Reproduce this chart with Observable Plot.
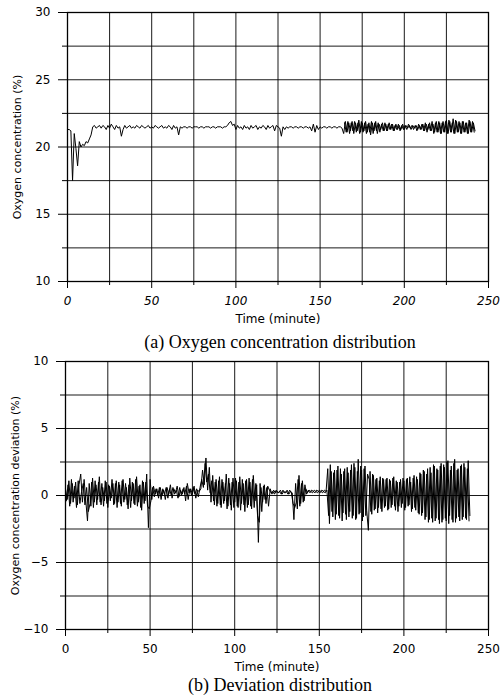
<!DOCTYPE html>
<html>
<head>
<meta charset="utf-8">
<script src="https://cdn.jsdelivr.net/npm/d3@7"></script>
<script src="https://cdn.jsdelivr.net/npm/@observablehq/plot@0.6"></script>
<style>
  html, body { margin: 0; padding: 0; background: #fff; overflow: hidden; }
  svg { display: block; }
  .cap { width: 440px; padding-left: 60px; text-align: center;
         font-family: "Liberation Serif", "DejaVu Serif", serif; font-size: 18px; color: #000; white-space: nowrap; }
  #capA { height: 24px; line-height: 24px; }
  #capB { height: 19px; line-height: 19px; }
  #a g[aria-label='x-axis tick label'] text { font-style: italic; }
</style>
</head>
<body>
<div id="a"></div>
<div class="cap" id="capA">(a) Oxygen concentration distribution</div>
<div id="b"></div>
<div class="cap" id="capB">(b) Deviation distribution</div>
<script>
// sampling step of both records (minutes)
const stepMinutes = 1;

// (a) oxygen concentration (%) read at each whole minute, 0..242
const oxygen = [
  21.3, 21.3, 21.2, 17.5, 21.0, 19.9, 18.6, 20.4, 20.0, 20.2,
  20.1, 20.4, 20.3, 20.6, 20.9, 21.5, 21.6, 21.4, 21.5, 21.6,
  21.4, 21.6, 21.5, 21.3, 21.6, 21.4, 21.7, 21.5, 21.3, 21.6,
  21.4, 21.5, 20.8, 21.3, 21.6, 21.4, 21.5, 21.6, 21.4, 21.5,
  21.4, 21.6, 21.5, 21.4, 21.6, 21.5, 21.4, 21.5, 21.6, 21.4,
  21.5, 21.4, 21.6, 21.5, 21.4, 21.5, 21.6, 21.4, 21.5, 21.4,
  21.6, 21.5, 21.3, 21.6, 21.4, 21.5, 20.9, 21.5, 21.4, 21.5,
  21.5, 21.4, 21.5, 21.5, 21.4, 21.5, 21.5, 21.5, 21.4, 21.5,
  21.5, 21.4, 21.5, 21.5, 21.5, 21.4, 21.5, 21.5, 21.4, 21.5,
  21.5, 21.5, 21.4, 21.5, 21.5, 21.6, 21.8, 21.9, 21.6, 21.7,
  21.3, 21.6, 21.4, 21.5, 21.3, 21.6, 21.4, 21.5, 21.3, 21.6,
  21.4, 21.5, 21.6, 21.3, 21.5, 21.4, 21.6, 21.5, 21.3, 21.6,
  21.4, 21.5, 21.6, 21.2, 21.6, 21.5, 21.4, 20.8, 21.5, 21.3,
  21.5, 21.4, 21.5, 21.5, 21.4, 21.5, 21.5, 21.4, 21.5, 21.5,
  21.4, 21.5, 21.5, 21.4, 21.5, 21.2, 21.7, 21.1, 21.6, 21.3,
  21.5, 21.4, 21.5, 21.5, 21.4, 21.5, 21.5, 21.4, 21.5, 21.5,
  21.4, 21.5, 21.5, 21.4, 21.0, 21.9, 21.1, 21.8, 21.2, 21.9,
  21.0, 21.8, 21.2, 22.0, 21.1, 21.8, 21.2, 21.9, 21.1, 21.8,
  20.9, 21.8, 21.2, 21.9, 21.0, 21.7, 21.3, 21.8, 21.2, 21.7,
  21.2, 21.8, 21.3, 21.7, 21.2, 21.7, 21.3, 21.6, 21.3, 21.7,
  21.3, 21.6, 21.4, 21.6, 21.3, 21.6, 21.4, 21.6, 21.3, 21.6,
  21.3, 21.7, 21.2, 21.7, 21.3, 21.8, 21.2, 21.7, 21.1, 21.9,
  21.1, 21.8, 21.0, 21.9, 21.1, 22.0, 21.0, 21.9, 21.1, 22.1,
  21.0, 21.9, 21.1, 21.8, 21.0, 21.9, 21.1, 21.8, 21.0, 21.9,
  21.1, 21.8, 21.2
];
// (a) second trace of half-minute readings in the noisy stretch, t = 164.5 .. 241.5
const oxygenHalfStart = 164.5;
const oxygenHalf = [
  21.8, 21.1, 21.9, 21.0, 21.8, 21.2, 21.9, 21.1, 21.8, 21.0,
  21.9, 21.1, 21.8, 21.0, 21.7, 21.1, 21.9, 21.0, 21.8, 21.2,
  21.8, 21.1, 21.7, 21.2, 21.8, 21.2, 21.7, 21.3, 21.7, 21.2,
  21.6, 21.3, 21.7, 21.2, 21.6, 21.3, 21.6, 21.3, 21.7, 21.4,
  21.6, 21.3, 21.6, 21.2, 21.7, 21.3, 21.7, 21.2, 21.8, 21.1,
  21.7, 21.2, 21.9, 21.0, 21.8, 21.1, 21.9, 21.0, 21.8, 21.1,
  21.9, 21.0, 22.0, 21.1, 21.8, 21.0, 22.0, 21.1, 21.9, 21.0,
  21.9, 21.1, 21.8, 21.0, 22.0, 21.1, 21.9, 21.1
];

// (b) oxygen concentration deviation (%) read at each whole minute, 0..239
const deviation = [
  0.5, -0.3, 1.1, -0.6, 0.9, -0.2, 1.0, -0.7, 0.8, 1.6,
  -0.5, 1.2, -0.4, -1.9, 0.9, -0.8, 1.3, -0.5, 0.8, -0.3,
  1.4, -0.7, 0.6, -0.4, 1.0, -0.9, 0.7, -0.2, 0.9, -0.6,
  1.1, -0.5, 0.8, -0.8, 1.2, -0.3, 0.6, -1.0, 1.3, -0.4,
  0.9, -0.7, 1.4, -0.5, 0.8, -1.1, 1.0, -0.4, 1.6, -2.4,
  1.2, -0.3, 0.7, 0.1, 0.5, -0.2, 0.6, 0.0, 0.4, -0.3,
  0.6, 0.1, 0.8, -0.2, 0.5, 0.2, 0.7, -0.1, 0.4, 0.1,
  0.6, -0.4, 0.9, 0.2, 0.5, 0.1, 0.7, -0.2, 0.4, 0.3,
  0.5, 1.9, 0.8, 2.8, 0.4, 2.1, -0.5, 1.5, -0.7, 1.2,
  -0.6, 1.4, -0.9, 1.0, -0.4, 1.6, -0.8, 0.9, -1.1, 1.3,
  -0.5, 1.1, -0.9, 1.4, -0.6, 0.9, -1.2, 1.2, -0.7, 1.0,
  -1.0, 1.5, -0.4, 0.8, -3.5, 0.9, -1.2, 0.7, -0.3, 0.6,
  -0.8, 0.5, 0.1, 0.4, 0.2, 0.3, 0.2, 0.4, 0.1, 0.3,
  0.2, 0.4, 0.1, 0.3, 0.2, -1.8, 0.9, -1.0, 1.5, -0.6,
  1.1, -0.4, 0.5, 0.2, 0.4, 0.3, 0.2, 0.4, 0.3, 0.2,
  0.4, 0.3, 0.2, 0.4, 0.3, 2.0, -2.1, 1.8, -1.6, 1.9,
  -1.4, 2.2, -1.7, 1.6, -1.3, 2.0, -1.8, 1.7, -1.2, 2.3,
  -1.5, 2.1, -1.7, 2.7, -1.3, 1.9, -1.6, 2.2, -1.1, -2.6,
  1.8, -1.4, 1.5, -1.0, 1.3, -0.9, 1.4, -1.2, 1.2, -0.8,
  1.3, -1.0, 1.1, -0.7, 1.4, -1.1, 1.0, -0.8, 1.2, -0.6,
  1.1, -0.9, 1.3, -0.7, 1.0, -1.0, 1.5, -1.1, 1.2, -1.4,
  1.6, -1.3, 1.8, -1.6, 2.0, -1.8, 1.7, -2.0, 2.2, -1.7,
  1.9, -2.1, 2.4, -1.8, 2.1, -1.9, 2.6, -1.5, 2.2, -2.0,
  2.7, -1.7, 2.0, -1.9, 2.3, -1.6, 2.1, -1.8, 2.6, -1.5
];
// (b) second trace of half-minute readings, t = 0.5 .. 238.5
const deviationHalfStart = 0.5;
const deviationHalf = [
  -0.4, 0.8, -0.8, 1.2, -0.5, 0.7, -0.9, 1.1, -0.6, 0.3,
  0.9, -0.7, 0.6, -1.2, -0.6, 1.0, -0.9, 1.1, -0.7, 1.0,
  -0.5, 0.9, -0.8, 1.1, -0.6, 0.8, -0.4, 1.2, -0.7, 0.9,
  -0.9, 1.0, -0.6, 1.1, -0.5, 0.9, -0.7, 0.8, -0.9, 1.0,
  -0.6, 1.2, -0.8, 0.7, -0.9, 1.1, -0.6, 1.0, -0.8, -1.0,
  -0.4, 0.6, -0.1, 0.5, 0.0, 0.6, -0.3, 0.5, 0.1, 0.6,
  -0.2, 0.5, 0.0, 0.6, 0.1, 0.4, -0.2, 0.6, 0.0, 0.5,
  0.1, 0.7, -0.3, 0.5, 0.0, 0.6, 0.1, 0.5, -0.1, 0.6,
  1.2, 0.6, 2.4, 1.0, 1.6, 0.2, 1.1, -0.4, 1.0, -0.8,
  1.1, -0.7, 1.2, -0.6, 0.9, -1.0, 1.3, -0.7, 1.0, -0.9,
  1.3, -0.8, 1.0, -1.1, 1.2, -0.7, 1.1, -0.9, 1.3, -0.8,
  1.2, -0.9, 0.9, -1.5, -2.0, 0.6, -0.5, 0.8, -0.6, 0.7,
  0.4, 0.2, 0.3, 0.1, 0.4, 0.2, 0.3, 0.1, 0.4, 0.2,
  0.3, 0.1, 0.4, 0.2, -0.6, -0.9, -0.5, 1.2, -0.8, 0.9,
  -0.5, 0.8, 0.1, 0.4, 0.2, 0.4, 0.3, 0.2, 0.4, 0.3,
  0.2, 0.4, 0.3, 0.2, 0.4, -1.5, 2.3, -1.2, 1.7, -1.8,
  1.9, -1.5, 2.0, -1.9, 1.8, -1.4, 2.1, -1.6, 1.9, -1.7,
  2.4, -1.8, 1.8, -1.4, 2.2, -1.9, 2.0, -1.5, 1.6, 1.2,
  -1.2, 1.6, -1.1, 1.2, -1.3, 1.1, -1.0, 1.3, -0.9, 1.2,
  -1.1, 1.2, -0.9, 1.3, -0.8, 1.1, -1.2, 1.0, -0.9, 1.3,
  -1.1, 1.2, -0.8, 1.4, -1.2, 1.3, -0.9, 1.4, -1.3, 1.7,
  -1.5, 1.9, -1.8, 1.6, -2.0, 2.1, -1.7, 2.3, -1.9, 2.0,
  -1.8, 2.2, -2.0, 2.3, -1.7, 2.5, -2.1, 1.9, -1.8, 2.4,
  -2.0, 1.9, -1.6, 2.2, -1.8, 2.4, -1.7, 2.0, -1.9
];

// axis ticks
const xMajorTicks = [0, 50, 100, 150, 200, 250];
const xMinorTicks = [25, 75, 125, 175, 225];
const xGridTicks = [0, 25, 50, 75, 100, 125, 150, 175, 200, 225, 250];
const yMajorA = [10, 15, 20, 25, 30];
const yMinorA = [12.5, 17.5, 22.5, 27.5];
const yGridA = [10, 12.5, 15, 17.5, 20, 22.5, 25, 27.5, 30];
const yMajorB = [-10, -5, 0, 5, 10];
const yMinorB = [-7.5, -2.5, 2.5, 7.5];
const yGridB = [-10, -7.5, -5, -2.5, 0, 2.5, 5, 7.5, 10];

const trace = (vals, start) => vals.map((v, i) => ({t: start + i * stepMinutes, v}));
const oxyMain = trace(oxygen, 0);
const oxyHalf = trace(oxygenHalf, oxygenHalfStart);
const devMain = trace(deviation, 0);
const devHalf = trace(deviationHalf, deviationHalfStart);

const font = "DejaVu Sans";

function panel({traces, yDomain, yMajor, yMinor, yGrid, yLabel, height, marginTop, marginBottom, marginLeft}) {
  return Plot.plot({
    width: 500,
    height,
    marginTop,
    marginBottom,
    marginLeft,
    marginRight: 12,
    style: {fontFamily: font, fontSize: "12px", color: "#000", background: "#fff"},
    x: {domain: [0, 250]},
    y: {domain: yDomain},
    marks: [
      Plot.gridX(xGridTicks, {stroke: "#000", strokeOpacity: 0.9, strokeWidth: 1}),
      Plot.gridY(yGrid, {stroke: "#000", strokeOpacity: 0.9, strokeWidth: 1}),
      Plot.frame({stroke: "#000", strokeWidth: 1.3}),
      Plot.axisX(xMajorTicks, {tickSize: 7, tickPadding: 8, fontSize: 12, label: null, tickFormat: d => String(d)}),
      Plot.axisX(xMinorTicks, {tickSize: 4, tickFormat: () => "", label: null}),
      Plot.axisY(yMajor, {tickSize: 9, tickPadding: 8, fontSize: 12, label: null,
        tickFormat: d => String(d).replace("-", "\u2212")}),
      Plot.axisY(yMinor, {tickSize: 5, tickFormat: () => "", label: null}),
      Plot.text(["Time (minute)"], {frameAnchor: "bottom", dy: 38, text: d => d, fontSize: 12, lineAnchor: "middle"}),
      Plot.text([yLabel], {frameAnchor: "left", dx: -50, rotate: -90, text: d => d, fontSize: 11,
        textAnchor: "middle", lineAnchor: "middle"}),
      ...traces.map(tr => Plot.line(tr, {x: "t", y: "v", stroke: "#000", strokeWidth: 1}))
    ]
  });
}

const a = panel({traces: [oxyMain, oxyHalf], yDomain: [10, 30], yMajor: yMajorA, yMinor: yMinorA, yGrid: yGridA,
  yLabel: "Oxygen concentration (%)", height: 330, marginTop: 12, marginBottom: 49, marginLeft: 67});
const b = panel({traces: [devMain, devHalf], yDomain: [-10, 10], yMajor: yMajorB, yMinor: yMinorB, yGrid: yGridB,
  yLabel: "Oxygen concentration deviation (%)", height: 322, marginTop: 7, marginBottom: 47, marginLeft: 65});

// panel (a) prints its time tick labels in oblique type
const xa = a.querySelector("[aria-label='x-axis tick label']");
if (xa) xa.style.fontStyle = "italic";

document.getElementById("a").appendChild(a);
document.getElementById("b").appendChild(b);
</script>
</body>
</html>
